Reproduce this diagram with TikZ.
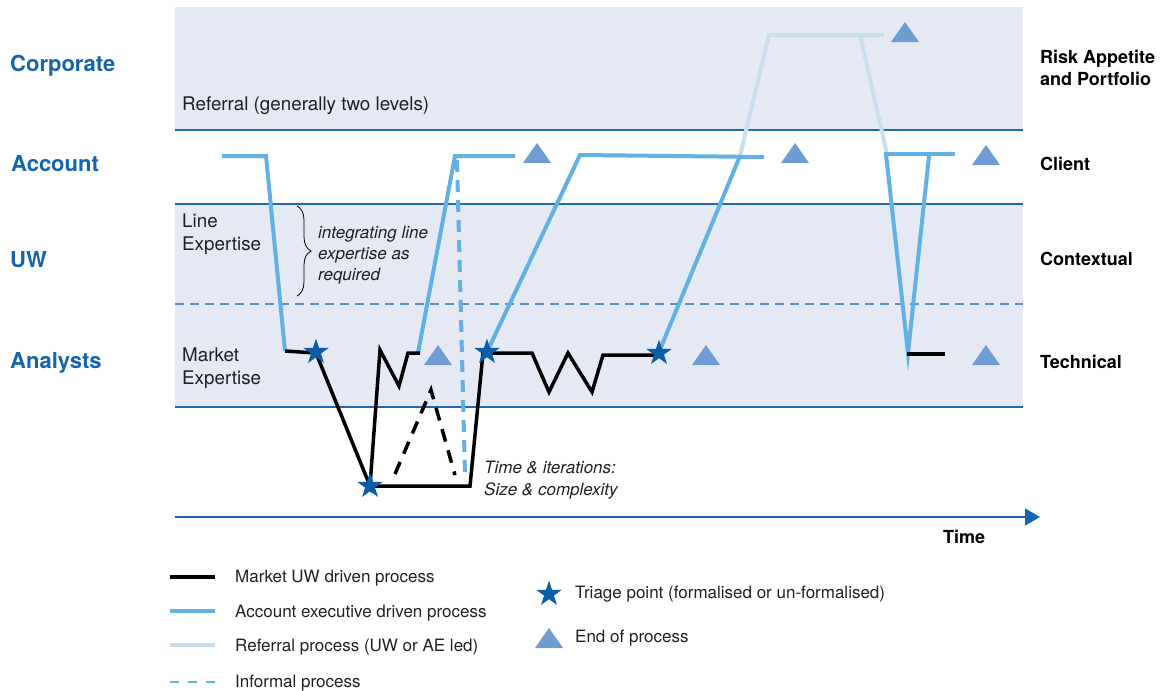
\documentclass[tikz,border=0pt]{standalone}
\usepackage{fontspec}
\setmainfont{TeX Gyre Heros}
\usetikzlibrary{shapes.geometric,arrows.meta,decorations.pathreplacing}
\definecolor{bandfill}{HTML}{E5E9F4}
\definecolor{bandline}{HTML}{1D6AB1}
\definecolor{banddash}{HTML}{5A8EC9}
\definecolor{lvlblue}{HTML}{1565AE}
\definecolor{aeblue}{HTML}{63B0E3}
\definecolor{refblue}{HTML}{CADFEE}
\definecolor{triblue}{HTML}{6E9CD3}
\definecolor{starblue}{HTML}{0A5DA6}
\definecolor{axisblue}{HTML}{1665B0}
\definecolor{txtgray}{HTML}{231F20}
\tikzset{
  lvl/.style={anchor=base west, inner sep=0pt, text=lvlblue, font=\fontsize{22}{26}\selectfont\bfseries},
  rlab/.style={anchor=base west, inner sep=0pt, text=black, font=\fontsize{18}{22}\selectfont\bfseries},
  btxt/.style={anchor=base west, inner sep=0pt, text=txtgray, font=\fontsize{18.8}{22}\selectfont},
  itxt/.style={anchor=base west, inner sep=0pt, text=txtgray, font=\fontsize{17}{22}\selectfont\itshape},
  ltxt/.style={anchor=base west, inner sep=0pt, text=txtgray, font=\fontsize{17}{22}\selectfont},
  mk/.style={draw=black, line width=3.5pt},
  ae/.style={draw=aeblue, line width=4pt},
  rf/.style={draw=refblue, line width=4pt},
  informal/.style={draw=aeblue, line width=4pt, dash pattern=on 12pt off 8pt},
  mkdash/.style={draw=black, line width=3.5pt, dash pattern=on 13pt off 9pt},
  triage/.style={star, star points=5, star point ratio=2.6, minimum size=27pt, inner sep=0pt, fill=starblue, draw=none},
  endtri/.pic={\fill[triblue] (-14,10) -- (14,10) -- (0,-10) -- cycle;},
  bline/.style={draw=bandline, line width=1.1pt},
}
\begin{document}
\begin{tikzpicture}[x=1pt,y=-1pt]
\useasboundingbox (0,0) rectangle (1168,691);
% bands
\fill[bandfill] (175,7) rectangle (1023,130);
\fill[bandfill] (175,204) rectangle (1023,407);
\draw[bline] (175,130) -- (1023,130);
\draw[bline] (175,204) -- (1023,204);
\draw[bline] (175,407) -- (1023,407);
\draw[draw=banddash, line width=1.1pt, dash pattern=on 9pt off 6pt] (175,304) -- (1023,304);

% level labels
\node[lvl] (corp) at (10,71) {Corporate};
\node[lvl] (acct) at (11,171) {Account};
\node[lvl] (uw) at (10,267) {UW};
\node[lvl] (anal) at (10,368) {Analysts};
\node[rlab] (risk1) at (1040,63) {Risk Appetite};
\node[rlab] (risk2) at (1040,85) {and Portfolio};
\node[rlab] (client) at (1040,170) {Client};
\node[rlab] (ctx) at (1040,265) {Contextual};
\node[rlab] (tech) at (1040,368) {Technical};

% band texts
\node[btxt] (refl) at (182,110) {Referral (generally two levels)};
\node[btxt] (line1) at (182,227) {Line};
\node[btxt] (line2) at (182,250) {Expertise};
\node[btxt] (mkt1) at (182,361) {Market};
\node[btxt] (mkt2) at (182,384) {Expertise};
\draw[line width=0.8pt, decorate, decoration={brace, amplitude=14pt}] (297,206) -- (297,296);
\node[itxt] (int1) at (318,238) {integrating line};
\node[itxt] (int2) at (318,259) {expertise as};
\node[itxt] (int3) at (318,280) {required};
\node[itxt] (ti1) at (484,473) {Time \& iterations:};
\node[itxt] (ti2) at (484,495) {Size \& complexity};

% time axis
\coordinate (ax0) at (175,517);
\coordinate (ax1) at (1040,517);
\draw[draw=axisblue, line width=1.5pt, -{Triangle[length=15pt,width=17pt]}] (ax0) -- (ax1);
\node[rlab] (time) at (943,543) {Time};

% referral process
\draw[rf] (740,156) -- (769,35) -- (884,35);
\draw[rf] (860,35) -- (887,154);

% informal
\draw[informal] (457,160) -- (465,474);
\draw[mkdash] (395,474) -- (431,390) -- (455,475);

% account executive process
\draw[ae] (222,156) -- (266,156) -- (285,351);
\draw[ae] (418,353) -- (455,156) -- (515,156);
\draw[ae] (487,352) -- (580,155) -- (764,157);
\draw[ae] (659,352) -- (740,156);
\draw[ae] (884,154) -- (955,154);
\draw[ae] (886,154) -- (908,353) -- (929,156);

% market UW process
\draw[mk] (285,351) -- (316,353) -- (370,486) -- (380,350) -- (399,386) -- (408,353) -- (420,353);
\draw[mk] (370,486) -- (470,486) -- (483,353) -- (532,353) -- (549,392) -- (568,353) -- (592,392) -- (603,355) -- (659,355);
\draw[mk] (907,354) -- (945,354);

% triage points
\node[triage] (s1) at (316,352) {};
\node[triage] (s2) at (370,486) {};
\node[triage] (s3) at (487,352) {};
\node[triage] (s4) at (659,353) {};

% end points
\pic (e1) at (537,153) {endtri};
\pic (e2) at (438,355) {endtri};
\pic (e3) at (795,153) {endtri};
\pic (e4) at (905,32) {endtri};
\pic (e5) at (706,355) {endtri};
\pic (e6) at (986,155) {endtri};
\pic (e7) at (986,355) {endtri};

% legend
\coordinate (l1a) at (170,577); \coordinate (l1b) at (215,577);
\coordinate (l2a) at (170,611); \coordinate (l2b) at (215,611);
\coordinate (l3a) at (170,645); \coordinate (l3b) at (215,645);
\coordinate (l4a) at (170,682); \coordinate (l4b) at (215,682);
\draw[draw=black, line width=4pt] (l1a) -- (l1b);
\draw[draw=aeblue, line width=4pt] (l2a) -- (l2b);
\draw[draw=refblue, line width=4pt] (l3a) -- (l3b);
\draw[draw=aeblue, line width=1.5pt, dash pattern=on 9pt off 9pt] (l4a) -- (l4b);
\node[ltxt] (lg1) at (235,582) {Market UW driven process};
\node[ltxt] (lg2) at (235,617) {Account executive driven process};
\node[ltxt] (lg3) at (235,651) {Referral process (UW or AE led)};
\node[ltxt] (lg4) at (235,687) {Informal process};
\node[triage] (ls) at (549,594) {};
\pic (lt) at (549,638) {endtri};
\node[ltxt] (lg5) at (575,598) {Triage point (formalised or un-formalised)};
\node[ltxt] (lg6) at (575,642) {End of process};
\end{tikzpicture}
\end{document}
